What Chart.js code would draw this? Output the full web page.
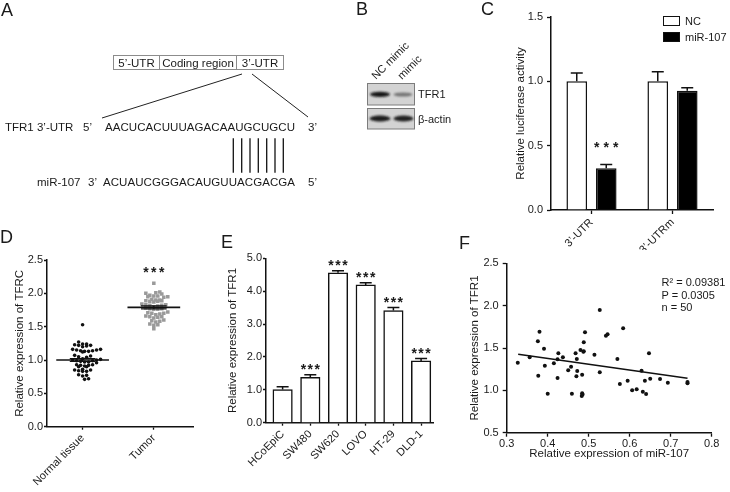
<!DOCTYPE html>
<html>
<head>
<meta charset="utf-8">
<script src="https://cdn.jsdelivr.net/npm/chart.js@4.4.1/dist/chart.umd.min.js"></script>
<style>
  body { margin: 0; background: #fff; }
  #fig { position: relative; width: 730px; height: 492px; overflow: hidden; background: #fff; }
  #fig canvas, #fig svg { position: absolute; }
</style>
</head>
<body>
<div id="fig">
  <canvas id="chartC" width="250" height="250" style="left:480px;top:0"></canvas>
  <canvas id="chartD" width="200" height="242" style="left:0;top:250px"></canvas>
  <canvas id="chartE" width="250" height="242" style="left:200px;top:250px"></canvas>
  <canvas id="chartF" width="280" height="242" style="left:450px;top:250px"></canvas>

  <svg width="730" height="492" style="left:0;top:0" font-family="'Liberation Sans', Arial, sans-serif" fill="#1a1a1a">
    <defs>
      <filter id="blur" x="-40%" y="-150%" width="180%" height="400%"><feGaussianBlur stdDeviation="1.2"/></filter>
    </defs>
    <!-- panel letters -->
    <g font-size="18">
      <text x="1" y="16">A</text>
      <text x="356" y="15">B</text>
      <text x="481" y="15">C</text>
      <text x="0" y="243">D</text>
      <text x="221" y="248">E</text>
      <text x="459" y="249">F</text>
    </g>

    <!-- A: TFR1 mRNA and miR-107 site -->
    <g font-size="11.5">
      <rect x="113.5" y="55.5" width="170" height="14" fill="#fff" stroke="#8c8c8c"/>
      <line x1="159.5" y1="55.5" x2="159.5" y2="69.5" stroke="#8c8c8c"/>
      <line x1="236.5" y1="55.5" x2="236.5" y2="69.5" stroke="#8c8c8c"/>
      <text x="136.5" y="66.5" text-anchor="middle">5’-UTR</text>
      <text x="198" y="66.5" text-anchor="middle">Coding region</text>
      <text x="260" y="66.5" text-anchor="middle">3’-UTR</text>
      <line x1="242" y1="74" x2="102" y2="118" stroke="#222" stroke-width="1"/>
      <line x1="252" y1="74" x2="308" y2="117" stroke="#222" stroke-width="1"/>
      <text x="5" y="131">TFR1 3’-UTR</text>
      <text x="83" y="131">5’</text>
      <text x="105" y="131" textLength="190" lengthAdjust="spacing">AACUCACUUUAGACAAUGCUGCU</text>
      <text x="308" y="131">3’</text>
      <g stroke="#111" stroke-width="1.3">
        <line x1="233.3" y1="138.3" x2="233.3" y2="172.7"/>
        <line x1="241.7" y1="138.3" x2="241.7" y2="172.7"/>
        <line x1="250" y1="138.3" x2="250" y2="172.7"/>
        <line x1="258.3" y1="138.3" x2="258.3" y2="172.7"/>
        <line x1="266.7" y1="138.3" x2="266.7" y2="172.7"/>
        <line x1="275" y1="138.3" x2="275" y2="172.7"/>
        <line x1="283.3" y1="138.3" x2="283.3" y2="172.7"/>
      </g>
      <text x="37" y="186">miR-107</text>
      <text x="88" y="186">3’</text>
      <text x="103" y="186" textLength="192" lengthAdjust="spacing">ACUAUCGGGACAUGUUACGACGA</text>
      <text x="308" y="186">5’</text>
    </g>

    <!-- B: western blot -->
    <g font-size="11">
      <text transform="translate(376,80) rotate(-45)">NC mimic</text>
      <text transform="translate(402,80) rotate(-45)">mimic</text>
      <rect x="367.5" y="83.5" width="47" height="21.5" fill="#d3d3d3" stroke="#7c7c7c"/>
      <ellipse cx="380" cy="94.3" rx="10" ry="2.6" fill="#151515" filter="url(#blur)"/>
      <ellipse cx="403" cy="94.5" rx="9.5" ry="2" fill="#555" opacity="0.75" filter="url(#blur)"/>
      <rect x="367.5" y="108.5" width="47" height="20.5" fill="#d3d3d3" stroke="#7c7c7c"/>
      <ellipse cx="380" cy="118.5" rx="10.5" ry="3" fill="#1a1a1a" filter="url(#blur)"/>
      <ellipse cx="403.5" cy="118.5" rx="10" ry="3" fill="#222" filter="url(#blur)"/>
      <text x="418" y="97.5">TFR1</text>
      <text x="418" y="122.5">β-actin</text>
    </g>

    <!-- F: regression stats -->
    <g font-size="11" id="fStats"></g>
  </svg>
</div>

<script>
// ---------- C: luciferase reporter ----------
const cCategories = ['3\u2019-UTR', '3\u2019-UTRm'];
const cSeries = ['NC', 'miR-107'];
const cNC = [1.00, 1.00];
const cNCErr = [0.065, 0.075];
const cMiR = [0.325, 0.927];
const cMiRErr = [0.028, 0.023];
const cMiRSig = ['***', ''];

// ---------- D: TFRC in tissues ----------
const dCategories = ['Normal tissue', 'Tumor'];
const dNormal = [1.53, 1.27, 1.24, 1.24, 1.23, 1.22, 1.22, 1.21, 1.20, 1.16, 1.16, 1.15, 1.15, 1.14, 1.14, 1.13, 1.13, 1.12,
  1.07, 1.06, 1.05, 1.04, 1.02, 1.01, 1.00, 1.00, 0.99, 0.99, 0.98, 0.97, 0.97, 0.96, 0.93, 0.93, 0.92, 0.92, 0.91, 0.90, 0.90,
  0.86, 0.85, 0.85, 0.84, 0.83, 0.83, 0.78, 0.77, 0.76, 0.72, 0.71];
const dTumor = [2.15, 2.02, 2.01, 2.00, 1.99, 1.97, 1.96, 1.96, 1.95, 1.95, 1.94, 1.91, 1.90, 1.90, 1.89, 1.89, 1.88, 1.88, 1.87,
  1.84, 1.83, 1.83, 1.82, 1.82, 1.81, 1.80, 1.78, 1.77, 1.77, 1.76, 1.76, 1.72, 1.71, 1.70, 1.70, 1.69, 1.68,
  1.66, 1.65, 1.65, 1.64, 1.63, 1.60, 1.59, 1.58, 1.57, 1.54, 1.53, 1.52, 1.47];
const dMeans = [1.00, 1.79];
const dSem = [0.022, 0.022];
const dSig = ['', '***'];

// ---------- E: TFR1 in cell lines ----------
const eCategories = ['HCoEpiC', 'SW480', 'SW620', 'LOVO', 'HT-29', 'DLD-1'];
const eValues = [1.01, 1.38, 4.56, 4.19, 3.41, 1.88];
const eErrors = [0.08, 0.08, 0.06, 0.07, 0.09, 0.07];
const eSig = ['', '***', '***', '***', '***', '***'];

// ---------- F: correlation ----------
const fMiR107 = [0.527, 0.380, 0.491, 0.542, 0.546, 0.376, 0.488, 0.391, 0.480, 0.487, 0.426, 0.468, 0.514, 0.437, 0.471,
  0.424, 0.356, 0.327, 0.415, 0.393, 0.457, 0.450, 0.472, 0.377, 0.484, 0.470, 0.527, 0.424, 0.400, 0.459, 0.484, 0.483,
  0.570, 0.647, 0.629, 0.576, 0.595, 0.606, 0.617, 0.632, 0.640, 0.637, 0.650, 0.674, 0.693, 0.741, 0.741, 0.584, 0.485, 0.488];
const fTFR1 = [1.949, 1.692, 1.685, 1.645, 1.662, 1.579, 1.567, 1.492, 1.476, 1.456, 1.437, 1.437, 1.421, 1.390, 1.370,
  1.367, 1.390, 1.326, 1.319, 1.291, 1.279, 1.237, 1.228, 1.173, 1.185, 1.166, 1.213, 1.146, 0.960, 0.960, 0.965, 0.933,
  1.370, 1.437, 1.232, 1.075, 1.114, 1.001, 1.012, 0.984, 0.957, 1.114, 1.138, 1.134, 1.090, 1.083, 1.098, 1.733, 0.950, 1.462];
const fFitX = [0.328, 0.741];
const fFitY = [1.426, 1.142];
const fStats = ['R\u00b2 = 0.09381', 'P = 0.0305', 'n = 50'];

const FONT = "'Liberation Sans', Arial, Helvetica, sans-serif";
const INK = '#1a1a1a';
Chart.defaults.font.family = FONT;
Chart.defaults.color = INK;
Chart.defaults.animation = false;
Chart.defaults.responsive = false;
Chart.defaults.plugins.legend.display = false;
Chart.defaults.plugins.tooltip.enabled = false;

function drawStars(ctx, text, x, yMid, spacing) {
  ctx.save();
  ctx.font = 'bold 14px ' + FONT;
  ctx.fillStyle = INK;
  ctx.textAlign = 'center';
  ctx.textBaseline = 'alphabetic';
  ctx.letterSpacing = spacing + 'px';
  ctx.fillText(text, x + spacing / 2, yMid + 8);
  ctx.restore();
}

// error bars (upper only) + significance marks for bar datasets
const errorBars = {
  id: 'errorBars',
  afterDatasetsDraw(chart, args, o) {
    const ctx = chart.ctx, y = chart.scales.y;
    chart.data.datasets.forEach((ds, di) => {
      if (!ds.errors) return;
      const meta = chart.getDatasetMeta(di);
      meta.data.forEach((bar, i) => {
        const v = meta.controller.getParsed(i).y;
        const yTop = y.getPixelForValue(v + ds.errors[i]);
        ctx.save();
        ctx.strokeStyle = '#111';
        ctx.lineWidth = 1.5;
        ctx.beginPath();
        ctx.moveTo(bar.x, bar.y);
        ctx.lineTo(bar.x, yTop);
        ctx.moveTo(bar.x - o.cap / 2, yTop);
        ctx.lineTo(bar.x + o.cap / 2, yTop);
        ctx.stroke();
        ctx.restore();
        if (ds.sig && ds.sig[i]) drawStars(ctx, ds.sig[i], bar.x, yTop - o.starGap, o.starSpacing);
      });
    });
  }
};

// legend boxes in the top-right corner of the plot (panel C)
const boxLegend = {
  id: 'boxLegend',
  afterDraw(chart, args, o) {
    const ctx = chart.ctx, a = chart.chartArea;
    chart.data.datasets.forEach((ds, i) => {
      const x = a.right + o.dx, y = a.top + o.dy + i * o.row;
      ctx.save();
      ctx.fillStyle = ds.backgroundColor;
      ctx.fillRect(x, y, o.w, o.h);
      ctx.strokeStyle = '#111';
      ctx.lineWidth = 1;
      ctx.strokeRect(x + 0.5, y + 0.5, o.w - 1, o.h - 1);
      ctx.fillStyle = INK;
      ctx.font = '11px ' + FONT;
      ctx.textBaseline = 'middle';
      ctx.fillText(ds.label, x + o.w + 5, y + o.h / 2 + 0.5);
      ctx.restore();
    });
  }
};

// mean +/- SEM lines for the dot plot (panel D)
const meanLines = {
  id: 'meanLines',
  afterDatasetsDraw(chart, args, o) {
    const {ctx, scales: {x, y}} = chart;
    o.means.forEach((m, i) => {
      const cx = i + 1;
      const yM = y.getPixelForValue(m);
      const yT = y.getPixelForValue(m + o.sem[i]);
      const yB = y.getPixelForValue(m - o.sem[i]);
      ctx.save();
      ctx.strokeStyle = '#111';
      ctx.lineWidth = 1.6;
      ctx.beginPath();
      ctx.moveTo(x.getPixelForValue(cx - o.half), yM);
      ctx.lineTo(x.getPixelForValue(cx + o.half), yM);
      ctx.stroke();
      ctx.lineWidth = 1.2;
      ctx.beginPath();
      ctx.moveTo(x.getPixelForValue(cx - o.cap), yT);
      ctx.lineTo(x.getPixelForValue(cx + o.cap), yT);
      ctx.moveTo(x.getPixelForValue(cx - o.cap), yB);
      ctx.lineTo(x.getPixelForValue(cx + o.cap), yB);
      ctx.moveTo(x.getPixelForValue(cx), yT);
      ctx.lineTo(x.getPixelForValue(cx), yB);
      ctx.stroke();
      ctx.restore();
      if (o.sig[i]) {
        const top = Math.max(...chart.data.datasets[i].data.map(p => p.y));
        drawStars(ctx, o.sig[i], x.getPixelForValue(cx), y.getPixelForValue(top) - o.starGap, 2.5);
      }
    });
  }
};

function yAxis(min, max, step, width, tickLen, pad, title) {
  return {
    min, max,
    ticks: { stepSize: step, padding: pad, font: { size: 11 }, color: INK, callback: v => Number(v).toFixed(1) },
    grid: { drawOnChartArea: false, tickLength: tickLen, tickWidth: 1.3, tickColor: '#111' },
    border: { color: '#111', width: 1.5 },
    title: { display: true, text: title, font: { size: 11.5 }, color: INK, padding: { top: 4, bottom: 4 } },
    afterFit: s => { s.width = width; }
  };
}

function xCatAxis(height, tickLen, pad) {
  return {
    ticks: { font: { size: 11 }, color: INK, padding: pad, minRotation: 45, maxRotation: 45, autoSkip: false },
    grid: { drawOnChartArea: false, tickLength: tickLen, tickWidth: 1.3, tickColor: '#111', offset: false },
    border: { color: '#111', width: 1.5 },
    afterFit: s => { s.height = height; }
  };
}

// simple row-wise swarm: values in the same band are spread side by side
function swarm(values, center, band, step) {
  const rows = new Map();
  values.forEach(v => {
    const k = Math.round(v / band);
    if (!rows.has(k)) rows.set(k, []);
    rows.get(k).push(v);
  });
  const pts = [];
  rows.forEach(row => {
    row.sort((a, b) => a - b);
    const order = row.map((v, j) => j % 2 ? (j + 1) / 2 : -j / 2);
    const shift = row.length % 2 ? 0 : 0.5;
    row.forEach((v, j) => pts.push({ x: center + (order[j] + shift) * step, y: v }));
  });
  return pts;
}

// ---------- C ----------
new Chart(document.getElementById('chartC'), {
  type: 'bar',
  data: {
    labels: cCategories,
    datasets: [
      { label: cSeries[0], data: cNC, errors: cNCErr, backgroundColor: '#ffffff', borderColor: '#111', borderWidth: 1.5,
        barPercentage: 0.7, categoryPercentage: 0.728 },
      { label: cSeries[1], data: cMiR, errors: cMiRErr, sig: cMiRSig, backgroundColor: '#000000', borderColor: '#111', borderWidth: 1.5,
        barPercentage: 0.7, categoryPercentage: 0.728 }
    ]
  },
  options: {
    layout: { padding: { left: 30, top: 17, right: 17, bottom: 0 } },
    scales: {
      x: xCatAxis(40, 4, 2),
      y: yAxis(0, 1.5, 0.5, 41, 4, 4, 'Relative luciferase activity')
    },
    plugins: {
      errorBars: { cap: 12, starGap: 21, starSpacing: 4 },
      boxLegend: { dx: -50, dy: -1, row: 16, w: 17, h: 10 }
    }
  },
  plugins: [errorBars, boxLegend]
});

// ---------- D ----------
const dStep = 0.056;
new Chart(document.getElementById('chartD'), {
  type: 'scatter',
  data: {
    datasets: [
      { label: dCategories[0], data: swarm(dNormal, 1, 0.055, dStep), backgroundColor: '#111', borderWidth: 0,
        pointRadius: 1.8, pointStyle: 'circle' },
      { label: dCategories[1], data: swarm(dTumor, 2, 0.055, dStep), backgroundColor: '#9a9a9a', borderWidth: 0,
        pointRadius: 2.5, pointStyle: 'rect' }
    ]
  },
  options: {
    layout: { padding: { left: 9, top: 10, right: 7, bottom: 0 } },
    scales: {
      x: Object.assign(xCatAxis(65.3, 3, 2), {
        type: 'linear', min: 0.5, max: 2.55,
        afterBuildTicks: s => { s.ticks = dCategories.map((c, i) => ({ value: i + 1 })); }
      }),
      y: yAxis(0, 2.5, 0.5, 38, 3, 1, 'Relative expression of TFRC')
    },
    plugins: { meanLines: { means: dMeans, sem: dSem, sig: dSig, half: 0.37, cap: 0.18, starGap: 14 } }
  },
  plugins: [meanLines]
});
// tick labels for D come from the category names
Chart.getChart('chartD').options.scales.x.ticks.callback = v => dCategories[Math.round(v) - 1];
Chart.getChart('chartD').update();

// ---------- E ----------
new Chart(document.getElementById('chartE'), {
  type: 'bar',
  data: {
    datasets: [
      { label: 'TFR1', data: eCategories.map((c, i) => ({ x: i, y: eValues[i] })), errors: eErrors, sig: eSig,
        backgroundColor: '#ffffff', borderColor: '#111', borderWidth: 1.5, barThickness: 19.5 }
    ]
  },
  options: {
    layout: { padding: { left: 22, top: 8.3, right: 17, bottom: 0 } },
    scales: {
      x: Object.assign(xCatAxis(69.3, 3, 2), {
        type: 'linear', min: -0.6, max: 5.43, offset: false,
        afterBuildTicks: s => { s.ticks = eCategories.map((c, i) => ({ value: i })); }
      }),
      y: yAxis(0, 5, 1, 44, 3, 1, 'Relative expression of TFR1')
    },
    plugins: { errorBars: { cap: 12, starGap: 9, starSpacing: 1.5 } }
  },
  plugins: [errorBars]
});
Chart.getChart('chartE').options.scales.x.ticks.callback = v => eCategories[Math.round(v)];
Chart.getChart('chartE').update();

// ---------- F ----------
new Chart(document.getElementById('chartF'), {
  type: 'scatter',
  data: {
    datasets: [
      { label: 'samples', data: fMiR107.map((x, i) => ({ x, y: fTFR1[i] })), backgroundColor: '#111', borderWidth: 0, pointRadius: 2 },
      { type: 'line', label: 'fit', data: fFitX.map((x, i) => ({ x, y: fFitY[i] })), borderColor: '#111', borderWidth: 1.5,
        pointRadius: 0, fill: false }
    ]
  },
  options: {
    layout: { padding: { left: 14, top: 13.3, right: 18.3, bottom: 27 } },
    scales: {
      x: {
        type: 'linear', min: 0.3, max: 0.8,
        ticks: { stepSize: 0.1, font: { size: 11 }, color: INK, padding: 1, maxRotation: 0, callback: v => Number(v).toFixed(1) },
        grid: { drawOnChartArea: false, tickLength: 4, tickWidth: 1.3, tickColor: '#111' },
        border: { color: '#111', width: 1.5 },
        title: { display: true, text: 'Relative expression of miR-107', font: { size: 11.5 }, color: INK, padding: { top: 0, bottom: 4 } },
        afterFit: s => { s.height = 32.3; }
      },
      y: yAxis(0.5, 2.5, 0.5, 42.7, 4, 4, 'Relative expression of TFR1')
    }
  }
});

// regression statistics text (panel F)
const statsG = document.getElementById('fStats');
fStats.forEach((t, i) => {
  const el = document.createElementNS('http://www.w3.org/2000/svg', 'text');
  el.setAttribute('x', 661.5);
  el.setAttribute('y', 286 + i * 12.5);
  el.textContent = t;
  statsG.appendChild(el);
});
</script>
</body>
</html>
